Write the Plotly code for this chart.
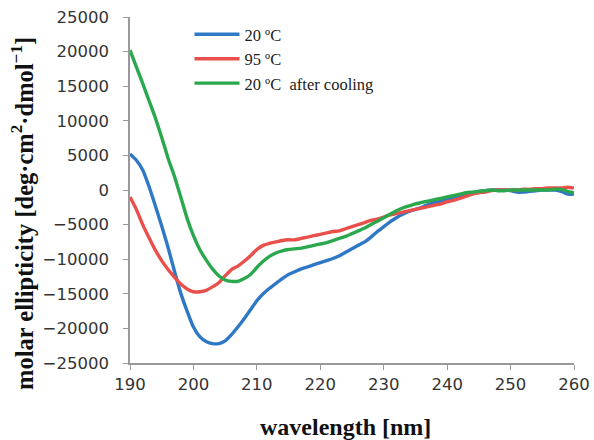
import plotly.graph_objects as go

wavelength = list(range(190, 261))

cd_20C = [5.2, 4.3, 2.9, 0.5, -2.3, -5.2, -8.3, -11.7, -14.9, -17.5,
          -19.8, -21.2, -21.9, -22.2, -22.2, -21.8, -20.9, -19.8, -18.6, -17.3,
          -16.0, -15.0, -14.2, -13.5, -12.8, -12.2, -11.8, -11.4, -11.1, -10.8,
          -10.5, -10.2, -9.9, -9.5, -9.0, -8.5, -8.0, -7.5, -6.8, -6.0,
          -5.3, -4.6, -4.0, -3.5, -3.1, -2.8, -2.5, -2.1, -1.8, -1.6,
          -1.4, -1.1, -0.8, -0.6, -0.4, -0.2, -0.1, 0.0, 0.0, 0.0,
          -0.1, -0.3, -0.3, -0.2, -0.1, 0.0, 0.0, 0.0, -0.2, -0.6, -0.6]

cd_95C = [-1.0, -2.8, -5.0, -6.9, -8.7, -10.2, -11.5, -12.6, -13.6, -14.3,
          -14.7, -14.7, -14.5, -14.0, -13.4, -12.4, -11.5, -11.0, -10.3, -9.5,
          -8.6, -8.0, -7.7, -7.5, -7.3, -7.2, -7.2, -7.0, -6.8, -6.6,
          -6.4, -6.2, -6.0, -5.9, -5.6, -5.3, -5.0, -4.7, -4.4, -4.2,
          -3.9, -3.6, -3.4, -3.2, -3.0, -2.8, -2.6, -2.4, -2.2, -2.0,
          -1.7, -1.5, -1.2, -0.9, -0.6, -0.4, -0.3, -0.1, 0.0, 0.0,
          0.0, 0.0, 0.1, 0.1, 0.2, 0.2, 0.3, 0.3, 0.3, 0.4, 0.3]

cd_20C_cooled = [20.2, 17.8, 15.4, 12.9, 10.4, 7.6, 4.6, 2.0, -1.0, -4.1,
                 -6.6, -8.6, -10.1, -11.4, -12.4, -13.0, -13.2, -13.2, -12.8, -12.2,
                 -11.2, -10.3, -9.6, -9.1, -8.8, -8.6, -8.5, -8.4, -8.2, -8.0,
                 -7.8, -7.6, -7.3, -7.0, -6.7, -6.3, -5.9, -5.5, -5.0, -4.5,
                 -4.0, -3.5, -3.0, -2.6, -2.3, -2.0, -1.8, -1.6, -1.4, -1.2,
                 -1.0, -0.8, -0.6, -0.4, -0.3, -0.2, -0.1, 0.0, -0.1, -0.1,
                 0.0, 0.0, 0.0, 0.0, 0.0, 0.0, 0.0, 0.1, 0.1, -0.2, -0.4]

series_names = ["20 \u00baC", "95 \u00baC", "20 \u00baC  after cooling"]
series_data = [cd_20C, cd_95C, cd_20C_cooled]
series_colors = ["#2F78C6", "#E9504B", "#2BA84E"]

y_ticks = [25000, 20000, 15000, 10000, 5000, 0, -5000, -10000, -15000, -20000, -25000]
y_ticklabels = ["25000", "20000", "15000", "10000", "5000", "0",
                "\u22125000", "\u221210000", "\u221215000", "\u221220000", "\u221225000"]
x_ticks = [190, 200, 210, 220, 230, 240, 250, 260]

x_title = "<b>wavelength [nm]</b>"
y_title = "<b>molar ellipticity [deg\u00b7cm<sup>2</sup>\u00b7dmol<sup>\u22121</sup>]</b>"

fig = go.Figure()
for name, vals, col in zip(series_names, series_data, series_colors):
    fig.add_trace(go.Scatter(
        x=wavelength, y=[v * 1000 for v in vals], mode="lines", name=name,
        line=dict(color=col, width=3.4, shape="spline", smoothing=0.5),
    ))

fig.update_layout(
    width=594, height=440,
    margin=dict(l=130, r=20, t=17, b=77),
    paper_bgcolor="white", plot_bgcolor="white",
    showlegend=True,
    legend=dict(
        x=0.134, y=1.0, xanchor="left", yanchor="top",
        font=dict(family="Liberation Serif", size=16.5, color="#222"),
        bgcolor="rgba(0,0,0,0)", tracegroupgap=0, itemwidth=45,
    ),
    xaxis=dict(
        range=[190, 260], tickvals=x_ticks, ticks="outside", ticklen=5,
        tickcolor="#999", showline=True, linecolor="#999", linewidth=1.5,
        showgrid=False, zeroline=False, automargin=False,
        tickfont=dict(family="DejaVu Sans", size=16.5, color="#333"),
    ),
    yaxis=dict(
        range=[-25000, 25000], tickvals=y_ticks, ticktext=y_ticklabels,
        ticks="outside", ticklen=5, tickcolor="#999",
        showline=True, linecolor="#999", linewidth=1.5,
        showgrid=False, zeroline=False, automargin=False,
        ticklabelstandoff=11,
        tickfont=dict(family="DejaVu Sans", size=16.5, color="#333"),
    ),
    annotations=[
        dict(text=x_title, xref="paper", yref="paper", x=0.486, y=-0.185,
             xanchor="center", yanchor="middle", showarrow=False,
             font=dict(family="Liberation Serif", size=24, color="#111")),
        dict(text=y_title, xref="paper", yref="paper", x=-0.243, y=0.431,
             xanchor="center", yanchor="middle", showarrow=False, textangle=-90,
             font=dict(family="Liberation Serif", size=24.5, color="#111")),
    ],
)

fig.write_html("out.html", config={"displayModeBar": False},
               post_script="document.body.style.margin='0';")
